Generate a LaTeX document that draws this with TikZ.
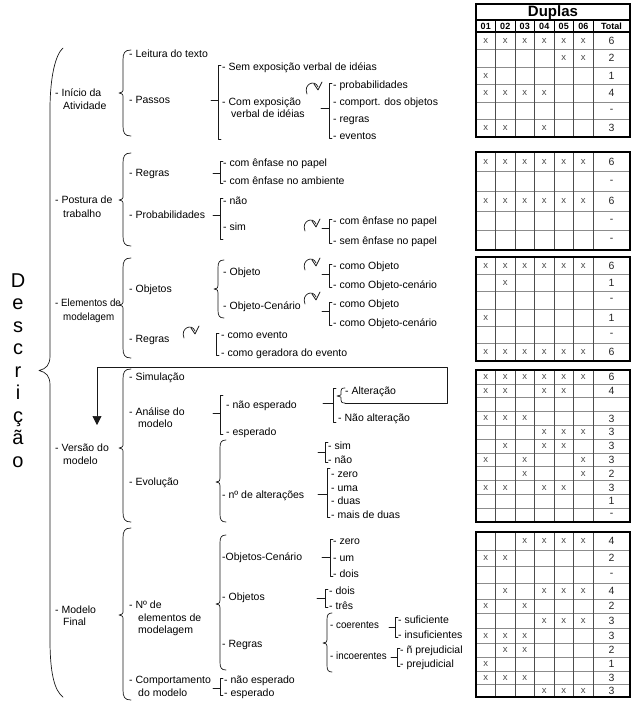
\documentclass[tikz,border=0pt]{standalone}
\usepackage{fontspec}
\setmainfont{Liberation Sans}
\usetikzlibrary{arrows.meta}
\newcommand\fs{\fontsize{10.5}{12}\selectfont}
\newcommand\Lbl[5][]{\node[lbl,#1] (#2) at (#3,{#4+3.8}) {#5};}
\newcommand\Lblc[5][]{\node[lbl,#1] (#2) at (#3,{#4+3.8}) {\scalebox{0.93}[1]{#5}};}
\newcommand\Sbr[5]{\draw[ln] ({#1+3},{#2-2}) -- (#1,{#2-2}) -- (#1,{#3+2}) -- ({#1+3},{#3+2});
  \ifdim #5pt>0pt \draw[ln] ({#1-#5},#4) -- (#1,#4);\fi}
\newcommand\Cbr[6]{\draw[ln] ({#1+#5},#2) .. controls ({#1+0.2*#5},#2) and (#1,{#2+0.3*#6}) .. (#1,{#2+#6}) -- (#1,{#3-#6*0.5}) .. controls (#1,{#3-1}) .. ({#1-4},#3) .. controls (#1,{#3+1}) .. (#1,{#3+#6*0.5}) -- (#1,{#4-#6}) .. controls (#1,{#4-0.3*#6}) and ({#1+0.2*#5},#4) .. ({#1+#5},#4);}
\newcommand\Loopy[2]{\draw[ln] ({#1-6},{#2+6}) .. controls ({#1-10},{#2-4}) and ({#1+2},{#2-9}) .. ({#1+5},{#2-1});
  \draw[ln] ({#1+1},{#2-4}) -- ({#1+5},{#2+2}) -- ({#1+9},{#2-6});}
\newcommand\Trow[4]{\foreach \c in {#3}{\ifnum\c>0 \node[cx] (x#1\c) at ({476+19.5*\c-9.75},#2) {x};\fi}\node[cn] (n#1) at (611.5,#2) {#4};}
\newcommand\Tframe[3]{\foreach \yy in {#3}{\draw[tin] (476,\yy) -- (630,\yy);}\foreach \xx in {495.5,515,534.5,554,573.5,593}{\draw[tvin] (\xx,#1) -- (\xx,#2);}\draw[tout] (476,#1) rectangle (630,#2);}
\begin{document}
\begin{tikzpicture}[x=1pt,y=-1pt,
  ln/.style={line width=0.7pt,black!90,line cap=round,line join=round},
  lbl/.style={anchor=base west,inner sep=0pt,font=\fs,text=black},
  big/.style={anchor=base,inner sep=0pt,font=\fontsize{20}{22}\selectfont,text=black},
  tout/.style={line width=1.1pt,black},
  tin/.style={line width=0.5pt,black!45},
  tvin/.style={line width=0.5pt,black!70},
  cx/.style={inner sep=0pt,font=\fontsize{9.5}{10}\selectfont,text=black!70},
  cn/.style={inner sep=0pt,font=\fontsize{10.5}{11}\selectfont,text=black!85},
  hd/.style={inner sep=0pt,font=\bfseries\fontsize{9}{10}\selectfont},
]
\useasboundingbox (0,0) rectangle (636,702);
\fill[white] (0,0) rectangle (636,702);

% big vertical word
\node[big] (w1) at (18,287) {D};
\node[big] (w2) at (18,309.5) {e};
\node[big] (w3) at (18,332) {s};
\node[big] (w4) at (18,354.5) {c};
\node[big] (w5) at (18,377) {r};
\node[big] (w6) at (18,399.5) {i};
\node[big] (w7) at (18,422) {ç};
\node[big] (w8) at (18,444.5) {ã};
\node[big] (w9) at (18,467) {o};

% level 0 brace
\draw[ln] (63,48) .. controls (56,54) and (50,75) .. (50,110) -- (50,356) .. controls (50,365) and (46,369) .. (39,370.5) .. controls (46,372) and (50,376) .. (50,385) -- (50,640) .. controls (50,675) and (55,691) .. (63,697);

% level 1 labels
\Lbl{l1a}{55}{93}{- Início da}
\Lbl{l1b}{63}{106}{Atividade}
\Lbl{l2a}{55}{200}{- Postura de}
\Lbl{l2b}{63}{214}{trabalho}
\Lblc{l3a}{55}{303}{- Elementos de}
\Lblc{l3b}{63}{317}{modelagem}
\Lbl{l4a}{55}{448}{- Versão do}
\Lbl{l4b}{63}{461}{modelo}
\Lbl{l5a}{55}{610}{- Modelo}
\Lbl{l5b}{63}{622}{Final}

% level 1 braces
\Cbr{123}{50}{93}{136}{8}{10}
\Cbr{123}{153}{200}{246}{8}{10}
\Cbr{123}{258}{305}{358}{8}{10}
\Cbr{123}{369}{448}{522}{8}{10}
\Cbr{123}{528}{615}{700}{8}{10}

% level 2 labels
\Lbl{a1}{129}{54}{- Leitura do texto}
\Lbl{a2}{129}{100}{- Passos}
\Lbl{b1}{129}{173}{- Regras}
\Lbl{b2}{129}{215}{- Probabilidades}
\Lbl{c1}{129}{289}{- Objetos}
\Lbl{c2}{129}{339}{- Regras}
\Lbl{d1}{129}{377}{- Simulação}
\Lbl{d2a}{129}{412}{- Análise do}
\Lbl{d2b}{138}{424}{modelo}
\Lbl{d3}{129}{482}{- Evolução}
\Lbl{e1a}{129}{605}{- Nº de}
\Lbl{e1b}{138}{618}{elementos de}
\Lbl{e1c}{138}{630}{modelagem}
\Lbl{e2a}{129}{680}{- Comportamento}
\Lbl{e2b}{138}{693}{do modelo}

% level 3 labels
\Lbl{a21}{222}{67}{- Sem exposição verbal de idéias}
\Lbl{a22a}{222}{102}{- Com exposição}
\Lbl{a22b}{231}{114}{verbal de idéias}
\Lbl{b11}{223}{163}{- com ênfase no papel}
\Lbl{b12}{223}{181}{- com ênfase no ambiente}
\Lbl{b21}{223}{201}{- não}
\Lbl{b22}{223}{227}{- sim}
\Lbl{c11}{223}{272}{- Objeto}
\Lbl{c12}{223}{306}{- Objeto-Cenário}
\Lbl{c21}{221}{335}{- como evento}
\Lbl{c22}{221}{353}{- como geradora do evento}
\Lbl{d21}{226}{405}{- não esperado}
\Lbl{d22}{226}{432}{- esperado}
\Lbl{d31}{222}{495}{- nº de alterações}
\Lbl{e11}{222}{557}{-Objetos-Cenário}
\Lbl{e12}{222}{597}{- Objetos}
\Lbl{e13}{222}{644}{- Regras}
\Lbl{e21}{224}{680}{- não esperado}
\Lbl{e22}{224}{693}{- esperado}

% level 4 labels
\Lbl{a221}{333}{85}{- probabilidades}
\Lbl{a222}{333}{102}{- comport. dos objetos}
\Lbl{a223}{333}{119}{- regras}
\Lbl{a224}{333}{136}{- eventos}
\Lbl{b221}{333}{221}{- com ênfase no papel}
\Lbl{b222}{333}{241}{- sem ênfase no papel}
\Lbl{c111}{333}{266}{- como Objeto}
\Lbl{c112}{333}{285}{- como Objeto-cenário}
\Lbl{c121}{333}{304}{- como Objeto}
\Lbl{c122}{333}{323}{- como Objeto-cenário}
\Lbl{d211}{345}{391}{- Alteração}
\Lbl{d212}{338}{418}{- Não alteração}
\Lbl{d301}{328}{446}{- sim}
\Lbl{d302}{328}{460}{- não}
\Lbl{d311}{331}{473.5}{- zero}
\Lbl{d312}{331}{487.3}{- uma}
\Lbl{d313}{331}{501}{- duas}
\Lbl{d314}{331}{515}{- mais de duas}
\Lbl{e111}{333}{541}{- zero}
\Lbl{e112}{333}{557.5}{- um}
\Lbl{e113}{333}{574}{- dois}
\Lbl{e121}{329}{591}{- dois}
\Lbl{e122}{329}{605.5}{- três}
\Lblc{e131}{330}{625}{- coerentes}
\Lblc{e132}{330}{656}{- incoerentes}
\Lbl{e1311}{398}{619.5}{- suficiente}
\Lbl{e1312}{398}{635}{- insuficientes}
\Lbl{e1321}{400}{650}{- ñ prejudicial}
\Lbl{e1322}{400}{664}{- prejudicial}

% brackets
\Sbr{218}{67}{137}{100}{7}
\Sbr{329}{85}{136}{108}{8}
\Sbr{220}{163}{181}{173}{7}
\Sbr{220}{200}{237}{215}{7}
\Sbr{329}{221}{241}{228}{7}
\Sbr{329}{266}{285}{274}{7}
\Sbr{329}{304}{323}{311}{7}
\Sbr{216}{335}{353}{0}{0}
\Sbr{220}{397}{432}{413}{7}
\Sbr{333}{390}{420}{403}{10}
\Sbr{325}{444}{460}{452}{7}
\Sbr{327}{470}{515}{494}{9}
\Sbr{330}{541}{574}{557}{8}
\Sbr{325}{591}{605.5}{598}{8}
\Sbr{395}{619.5}{635}{627}{6}
\Sbr{397}{650}{664}{657}{6}
\Sbr{220}{680}{693}{688}{7}

% level 3 braces
\Cbr{218}{260}{289}{318}{6}{8}
\Cbr{220}{440}{482}{522}{6}{8}
\Cbr{220}{535}{604}{670}{6}{8}
\Cbr{327}{613}{643}{672}{5}{7}
\Cbr{341}{388}{396}{403}{4}{3}

% loops
\Loopy{313}{88}
\Loopy{311}{225}
\Loopy{311}{264}
\Loopy{311}{298}
\Loopy{190}{332}

% box and arrow
\coordinate (bx0) at (345,403);
\coordinate (bx1) at (447,403);
\coordinate (bx2) at (447,367);
\coordinate (bx3) at (97,367);
\coordinate (bx4) at (97,425);
\draw[ln,-{Triangle[length=9pt,width=9pt]}] (bx0) -- (bx1) -- (bx2) -- (bx3) -- (bx4);

% ===== tables =====
\node[inner sep=0pt,font=\bfseries\fontsize{15}{16}\selectfont] (dup) at (553,12.5) {Duplas};
\foreach \t [count=\i] in {01,02,03,04,05,06}{\node[hd] (h\i) at ({476+19.5*\i-9.75},26.5) {\t};}
\node[hd] (htot) at (611.5,26.5) {Total};
\foreach \xx in {495.5,515,534.5,554,573.5,593}{\draw[line width=0.8pt] (\xx,20) -- (\xx,32);}
\draw[tout] (476,4) rectangle (630,32);
\draw[tout] (476,20) -- (630,20);

% table 1
\Tframe{32}{137}{49.5,67,84.5,102,119.5}
\Trow{A1}{40.75}{1,2,3,4,5,6}{6}
\Trow{A2}{58.25}{5,6}{2}
\Trow{A3}{75.75}{1}{1}
\Trow{A4}{93.25}{1,2,3,4}{4}
\Trow{A5}{110.75}{0}{-}
\Trow{A6}{128.25}{1,2,4}{3}

% table 2
\Tframe{152}{250}{171.6,191.2,210.8,230.4}
\Trow{B1}{161.8}{1,2,3,4,5,6}{6}
\Trow{B2}{181.4}{0}{-}
\Trow{B3}{201}{1,2,3,4,5,6}{6}
\Trow{B4}{220.6}{0}{-}
\Trow{B5}{240.2}{0}{-}

% table 3
\Tframe{257}{361}{274.33,291.67,309,326.33,343.67}
\Trow{C1}{265.67}{1,2,3,4,5,6}{6}
\Trow{C2}{283}{2}{1}
\Trow{C3}{300.33}{0}{-}
\Trow{C4}{317.67}{1}{1}
\Trow{C5}{335}{0}{-}
\Trow{C6}{352.33}{1,2,3,4,5,6}{6}

% table 4
\Tframe{370}{522}{383.8,397.6,411.5,425.3,439.1,452.9,466.7,480.5,494.4,508.2}
\Trow{D1}{376.9}{1,2,3,4,5,6}{6}
\Trow{D2}{390.7}{1,2,4,5}{4}
\Trow{D3}{404.5}{0}{}
\Trow{D4}{418.4}{1,2,3}{3}
\Trow{D5}{432.2}{4,5,6}{3}
\Trow{D6}{446.0}{2,4,5}{3}
\Trow{D7}{459.8}{1,3,6}{3}
\Trow{D8}{473.6}{3,6}{2}
\Trow{D9}{487.5}{1,2,4,5}{3}
\Trow{D10}{501.3}{0}{1}
\Trow{D11}{515.1}{0}{-}

% table 5
\Tframe{532}{697}{550,566,583,599,613,628,643,657,671,684}
\Trow{E1}{541}{3,4,5,6}{4}
\Trow{E2}{558}{1,2}{2}
\Trow{E3}{574.5}{0}{-}
\Trow{E4}{591}{2,4,5,6}{4}
\Trow{E5}{606}{1,3}{2}
\Trow{E6}{620.5}{4,5,6}{3}
\Trow{E7}{635.5}{1,2,3}{3}
\Trow{E8}{650}{2,3}{2}
\Trow{E9}{664}{1}{1}
\Trow{E10}{677.5}{1,2,3}{3}
\Trow{E11}{690.5}{4,5,6}{3}
\end{tikzpicture}
\end{document}
